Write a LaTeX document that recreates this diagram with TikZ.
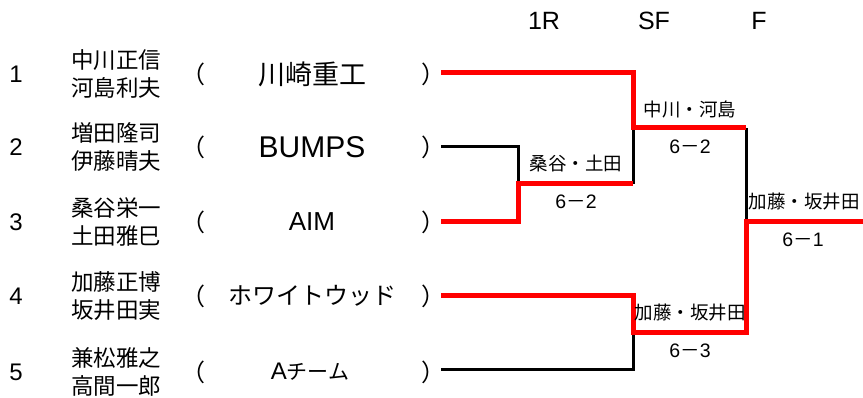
\documentclass[tikz,border=0pt]{standalone}
\usepackage{fontspec}
\setmainfont{Noto Sans CJK JP}
\newfontfamily\latf{Liberation Sans}
\begin{document}
\begin{tikzpicture}[x=1pt,y=-1pt,
  num/.style={font=\latf\fontsize{24}{26}\selectfont, inner sep=0pt},
  names/.style={font=\fontsize{22.5}{28}\selectfont, align=center, inner sep=0pt},
  team/.style={font=\fontsize{27}{30}\selectfont, inner sep=0pt},
  paren/.style={font=\fontsize{24}{28}\selectfont, inner sep=0pt},
  head/.style={font=\latf\fontsize{25}{26}\selectfont, inner sep=0pt},
  lbl/.style={font=\fontsize{18.5}{22}\selectfont, inner sep=0pt},
  score/.style={font=\fontsize{19.5}{22}\selectfont, inner sep=0pt},
  wline/.style={line width=3pt, black, line join=miter},
  rline/.style={line width=5pt, red, line join=miter}]
\useasboundingbox (0,0) rectangle (863,398);

% headings
\node[head] (h1) at (544,21) {1R};
\node[head] (h2) at (654,21) {SF};
\node[head] (h3) at (759,21) {F};

% entries
\foreach \i/\y/\a/\b in {1/74/中川正信/河島利夫, 2/147/増田隆司/伊藤晴夫, 3/222/桑谷栄一/土田雅巳, 4/296/加藤正博/坂井田実, 5/372/兼松雅之/高間一郎}{
  \node[num] (n\i) at (16,\y) {\i};
  \node[names] (p\i) at (116,\y) {\a\\\b};
  \node[paren] (l\i) at (193,\y) {（};
  \node[paren] (r\i) at (433,\y) {）};
}
\node[team] (t1) at (312,74) {川崎重工};
\node[team, font=\latf\fontsize{30}{30}\selectfont] (t2) at (312,147) {BUMPS};
\node[team, font=\latf\fontsize{26}{30}\selectfont] (t3) at (312,222) {AIM};
\node[team, font=\fontsize{24}{30}\selectfont] (t4) at (312,296) {ホワイトウッド};
\node[team, font=\fontsize{21}{30}\selectfont] (t5) at (310,372) {{\latf\fontsize{24}{30}\selectfont A}チーム};

% bracket coordinates
\coordinate (e1) at (441,73);
\coordinate (e2) at (441,147);
\coordinate (e3) at (441,222);
\coordinate (e4) at (441,296);
\coordinate (e5) at (441,370);
\coordinate (a2) at (518,147);
\coordinate (a3) at (518,222);
\coordinate (aw) at (518,184);
\coordinate (b1) at (633,73);
\coordinate (bw) at (633,184);
\coordinate (bt) at (633,128);
\coordinate (bx) at (746,128);
\coordinate (c4) at (633,296);
\coordinate (c5) at (633,370);
\coordinate (cb) at (633,333);
\coordinate (cx) at (746,333);
\coordinate (fm) at (746,222);
\coordinate (fe) at (863,222);

% losers (black)
\draw[wline] (e2) -- (a2) -- (aw);
\draw[wline] (bw) -- (bt);
\draw[wline] (e5) -- (c5) -- (cb);
\draw[wline] (bx) -- (fm);

% winners (red)
\draw[rline] (e1) -- (b1) -- (bt) -- (bx);
\draw[rline] (e3) -- (a3) -- (aw) -- (bw);
\draw[rline] (e4) -- (c4) -- (cb) -- (cx) -- (fm) -- (fe);

% labels
\node[lbl] (w1) at (576,164) {桑谷・土田};
\node[score] (s1) at (576,202) {{\latf 6}－{\latf 2}};
\node[lbl] (w2) at (690,110) {中川・河島};
\node[score] (s2) at (690,147) {{\latf 6}－{\latf 2}};
\node[lbl] (w3) at (690,313) {加藤・坂井田};
\node[score] (s3) at (690,351) {{\latf 6}－{\latf 3}};
\node[lbl] (w4) at (804,202) {加藤・坂井田};
\node[score] (s4) at (803,240) {{\latf 6}－{\latf 1}};
\end{tikzpicture}
\end{document}
